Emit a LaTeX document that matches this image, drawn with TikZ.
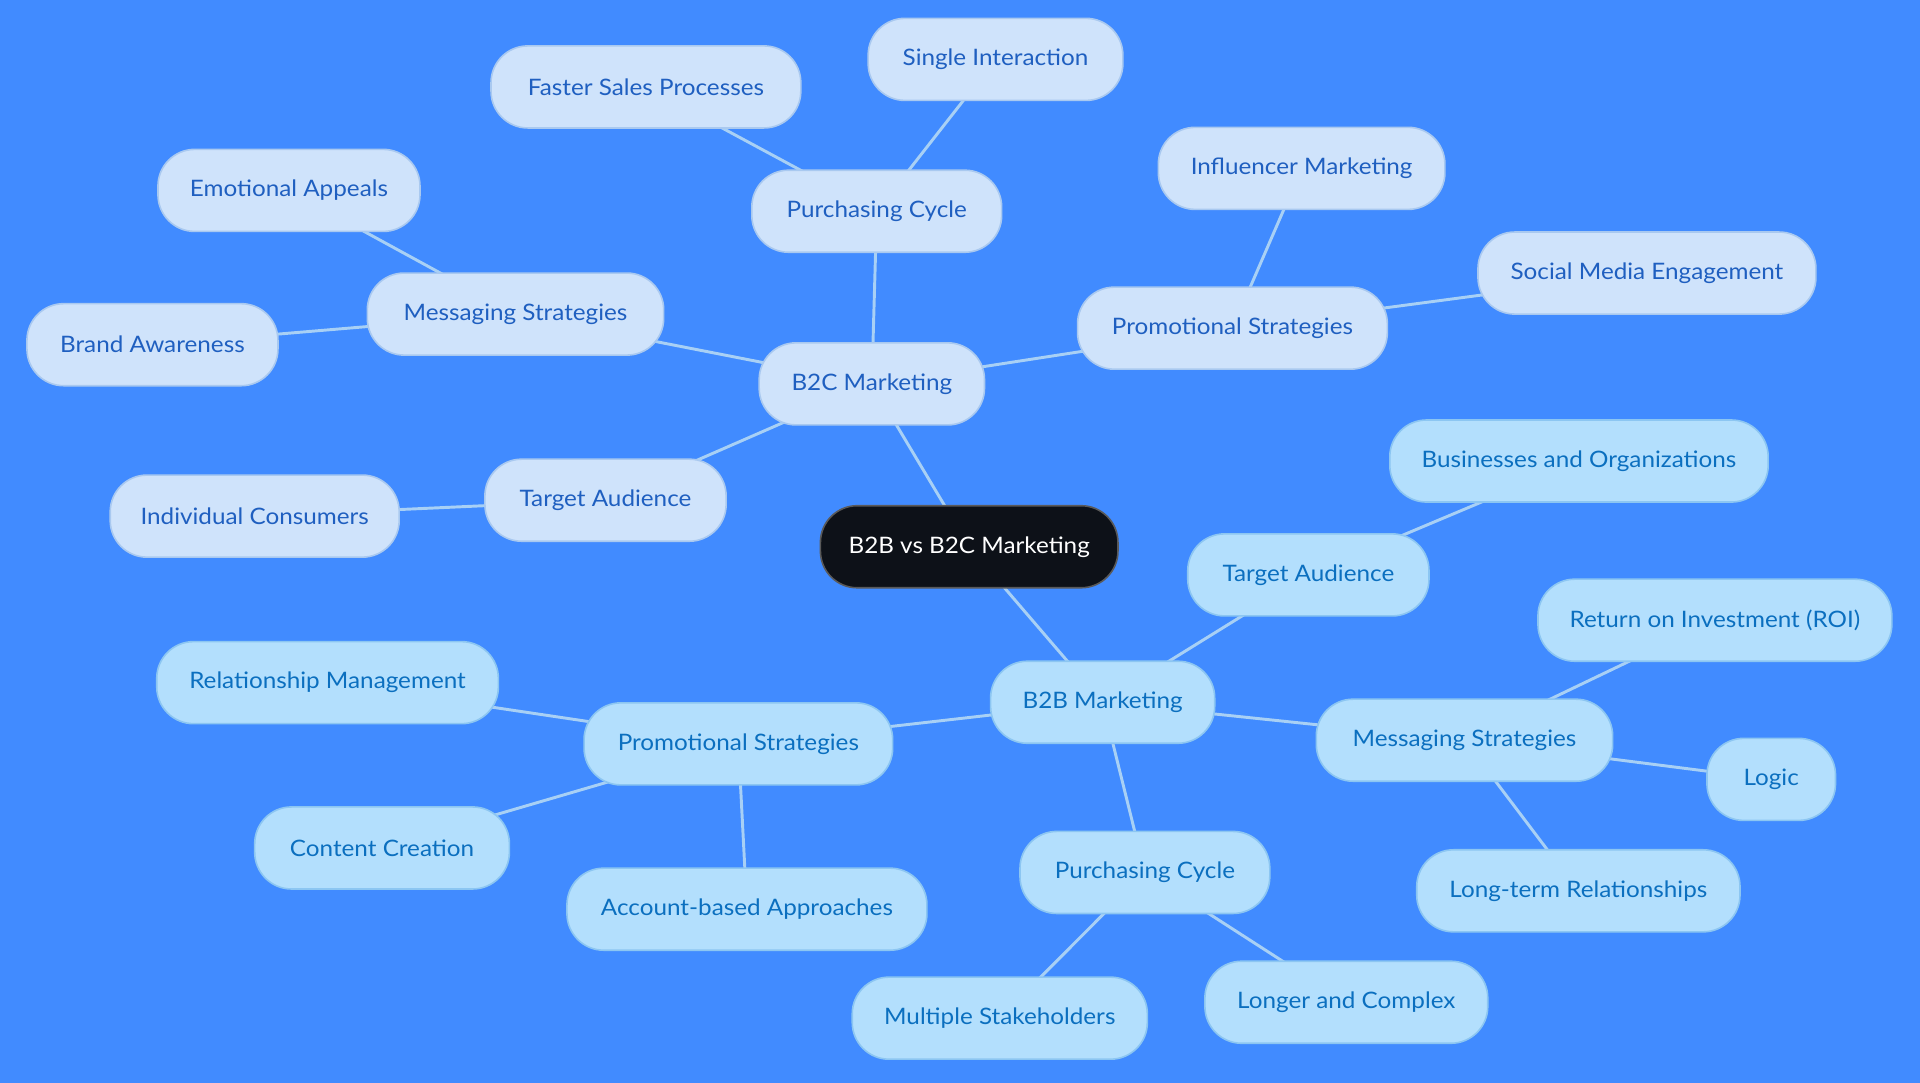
\documentclass[tikz,border=0pt]{standalone}
\usepackage{fontspec}
\setmainfont{Lato}[FakeStretch=1.07]
\usetikzlibrary{backgrounds}
\definecolor{bgblue}{HTML}{418BFF}
\definecolor{cfill}{HTML}{CFE3FB}
\definecolor{cdraw}{HTML}{A9C9F0}
\definecolor{ctext}{HTML}{1F5FC0}
\definecolor{bfill}{HTML}{B3DFFD}
\definecolor{bdraw}{HTML}{8CC6F2}
\definecolor{btext}{HTML}{0B6FBF}
\definecolor{linkc}{HTML}{A8D0F5}
\definecolor{rootfill}{HTML}{0D1118}
\tikzset{
  x=0.918367pt, y=-0.918367pt,
  pill/.style={rounded corners=30*0.918367pt, minimum height=67*0.918367pt,
    minimum width=#1*0.918367pt, inner sep=0pt, font=\fontsize{17}{20}\selectfont, line width=1.2pt},
  cnode/.style={pill=#1, fill=cfill, draw=cdraw, text=ctext},
  bnode/.style={pill=#1, fill=bfill, draw=bdraw, text=btext},
  root/.style={pill=#1, fill=rootfill, draw=gray!70!black, text=white},
  link/.style={draw=linkc, line width=2.2pt}
}
\begin{document}
\begin{tikzpicture}
\useasboundingbox (0,0) rectangle (1568,884.45);
\node[root=243] (root) at (791.5,446.5) {B2B vs B2C Marketing};
% B2C
\node[cnode=184] (c) at (712,313.5) {B2C Marketing};
\node[cnode=204] (cpc) at (716,172.5) {Purchasing Cycle};
\node[cnode=253] (cfsp) at (527.5,71) {Faster Sales Processes};
\node[cnode=208] (csi) at (813,48.5) {Single Interaction};
\node[cnode=242] (cms) at (421,256.5) {Messaging Strategies};
\node[cnode=214] (cea) at (236,155.5) {Emotional Appeals};
\node[cnode=205] (cba) at (124.5,281.5) {Brand Awareness};
\node[cnode=253] (cps) at (1006.5,268) {Promotional Strategies};
\node[cnode=234] (cim) at (1063,137.5) {Influencer Marketing};
\node[cnode=276] (csm) at (1345,223) {Social Media Engagement};
\node[cnode=197] (cta) at (494.5,408.5) {Target Audience};
\node[cnode=236] (cic) at (208,421.5) {Individual Consumers};
% B2B
\node[bnode=183] (b) at (900.5,573.5) {B2B Marketing};
\node[bnode=197] (bta) at (1068.5,469.5) {Target Audience};
\node[bnode=309] (bbo) at (1289.5,376.5) {Businesses and Organizations};
\node[bnode=242] (bms) at (1196,604.5) {Messaging Strategies};
\node[bnode=289] (broi) at (1400.5,506.5) {Return on Investment (ROI)};
\node[bnode=105] (blo) at (1446.5,636.5) {Logic};
\node[bnode=264] (bltr) at (1289,727.5) {Long-term Relationships};
\node[bnode=204] (bpc) at (935,712.5) {Purchasing Cycle};
\node[bnode=241] (bmst) at (816.5,831.5) {Multiple Stakeholders};
\node[bnode=231] (blc) at (1099.5,818.5) {Longer and Complex};
\node[bnode=252] (bps) at (603,607.5) {Promotional Strategies};
\node[bnode=279] (brm) at (267.5,557.5) {Relationship Management};
\node[bnode=208] (bcc) at (312,692.5) {Content Creation};
\node[bnode=294] (bab) at (610,742.5) {Account-based Approaches};
\begin{scope}[on background layer]
\fill[bgblue] (0,0) rectangle (1568,884.45);
\foreach \a/\b in {root/c, c/cpc, cpc/cfsp, cpc/csi, c/cms, cms/cea, cms/cba, c/cps, cps/cim, cps/csm, c/cta, cta/cic,
  root/b, b/bta, bta/bbo, b/bms, bms/broi, bms/blo, bms/bltr, b/bpc, bpc/bmst, bpc/blc, b/bps, bps/brm, bps/bcc, bps/bab}
  \draw[link] (\a.center) -- (\b.center);
\end{scope}
\end{tikzpicture}
\end{document}
